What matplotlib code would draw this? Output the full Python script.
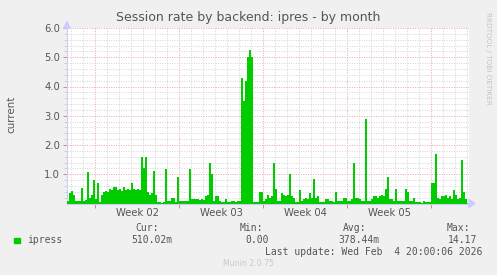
import numpy as np
import matplotlib
matplotlib.use("Agg")
import matplotlib.pyplot as plt
from matplotlib.patches import Polygon, Rectangle

# 4-hour samples, starting 2.33 days before Monday of Week 02
start_day = -28 / 12
step_day = 1 / 6
ipress = [
    0.10, 0.35, 0.42, 0.30, 0.08, 0.08, 0.10, 0.54, 0.10, 0.12,
    1.06, 0.20, 0.30, 0.82, 0.15, 0.70, 0.05, 0.30, 0.38, 0.42,
    0.40, 0.50, 0.45, 0.55, 0.55, 0.45, 0.48, 0.42, 0.55, 0.45,
    0.48, 0.45, 0.70, 0.50, 0.45, 0.50, 0.45, 1.60, 1.20, 1.60,
    0.40, 0.30, 0.35, 1.10, 0.30, 0.04, 0.04, 0.03, 0.05, 1.18,
    0.10, 0.10, 0.20, 0.20, 0.05, 0.90, 0.08, 0.08, 0.10, 0.10,
    0.10, 1.18, 0.15, 0.15, 0.15, 0.15, 0.12, 0.15, 0.12, 0.25,
    0.30, 1.38, 1.00, 0.10, 0.25, 0.25, 0.10, 0.05, 0.05, 0.15,
    0.05, 0.05, 0.10, 0.10, 0.05, 0.10, 0.10, 4.30, 3.50, 4.20,
    5.00, 5.25, 5.00, 0.05, 0.05, 0.05, 0.40, 0.38, 0.10, 0.15,
    0.30, 0.20, 0.25, 1.38, 0.50, 0.10, 0.10, 0.35, 0.30, 0.25,
    0.30, 1.00, 0.25, 0.20, 0.05, 0.05, 0.45, 0.10, 0.15, 0.20,
    0.15, 0.35, 0.20, 0.85, 0.20, 0.25, 0.05, 0.05, 0.05, 0.15,
    0.15, 0.10, 0.10, 0.05, 0.40, 0.10, 0.10, 0.10, 0.20, 0.20,
    0.10, 0.10, 0.15, 1.40, 0.20, 0.20, 0.15, 0.10, 0.10, 2.90,
    0.10, 0.10, 0.15, 0.25, 0.25, 0.20, 0.25, 0.30, 0.25, 0.50,
    0.92, 0.15, 0.15, 0.10, 0.50, 0.10, 0.10, 0.10, 0.10, 0.50,
    0.40, 0.10, 0.10, 0.20, 0.05, 0.05, 0.05, 0.03, 0.10, 0.05,
    0.05, 0.05, 0.70, 0.70, 1.70, 0.20, 0.15, 0.25, 0.25, 0.30,
    0.20, 0.25, 0.15, 0.45, 0.30, 0.15, 0.20, 1.48, 0.40, 0.15,
]
week_labels = ["Week 02", "Week 03", "Week 04", "Week 05"]
week_starts = [0, 7, 14, 21, 28]
legend_heads = ["Cur:", "Min:", "Avg:", "Max:"]
legend_vals = ["510.02m", "0.00", "378.44m", "14.17"]

W, H = 497, 275
fig = plt.figure(figsize=(W / 100, H / 100), dpi=100, facecolor="#f0f0f0")
x0, x1, y0, y1 = 67, 469, 28, 203.5
ax = fig.add_axes([x0 / W, 1 - y1 / H, (x1 - x0) / W, (y1 - y0) / H])
ax.set_facecolor("white")

t = start_day + step_day * np.arange(len(ipress) + 1)
vals = np.array(ipress + [ipress[-1]])
ax.fill_between(t, 0, vals, step="post", color="#00cc00", linewidth=0, zorder=3)
ax.plot([t[0], t[-1]], [0, 0], color="#00cc00", lw=1.2, zorder=4)

ax.set_xlim(start_day, start_day + (x1 - x0) / 12)
ax.set_ylim(0, 6.0)

# grid
dots = (0, (1, 1.5))
for d in np.arange(-2, 32):
    if d not in week_starts:
        ax.axvline(d, color="#d4d4d4", lw=0.7, ls=dots, zorder=1)
for w in week_starts:
    ax.axvline(w, color="#e8a8a8", lw=0.7, ls=dots, zorder=1)
for v in np.arange(0.2, 6.01, 0.2):
    major = abs(v - round(v)) < 1e-6
    ax.axhline(v, color="#e8a8a8" if major else "#d4d4d4", lw=0.7, ls=dots, zorder=1)

for s in ["top", "right"]:
    ax.spines[s].set_visible(False)
for s in ["left", "bottom"]:
    ax.spines[s].set_color("#ccccff")
    ax.spines[s].set_linewidth(0.8)

ax.set_yticks([1, 2, 3, 4, 5, 6])
ax.set_yticklabels(["1.0", "2.0", "3.0", "4.0", "5.0", "6.0"])
ax.set_yticks(np.arange(0.2, 6.0, 0.2), minor=True)
ax.set_xticks(week_starts)
ax.set_xticklabels([])
ax.set_xticks([w + 3.5 for w in week_starts[:4]], minor=True)
ax.set_xticklabels(week_labels, minor=True)
ax.tick_params(axis="y", which="major", colors="#e08080", labelcolor="#555555",
               labelsize=7.2, length=3, width=0.7, pad=2)
ax.tick_params(axis="y", which="minor", colors="#cccccc", length=2, width=0.6)
ax.tick_params(axis="x", which="major", colors="#e08080", length=3, width=0.7)
ax.tick_params(axis="x", which="minor", length=0, labelcolor="#555555",
               labelsize=7.2, pad=3)

# axis arrows
fig.patches.append(Polygon(
    [[x1 / W, 1 - (y1 - 4) / H], [(x1 + 6) / W, 1 - y1 / H], [x1 / W, 1 - (y1 + 4) / H]],
    closed=True, transform=fig.transFigure, color="#ccccff"))
fig.patches.append(Polygon(
    [[(x0 - 3.5) / W, 1 - y0 / H], [x0 / W, 1 - (y0 - 6) / H], [(x0 + 3.5) / W, 1 - y0 / H]],
    closed=True, transform=fig.transFigure, color="#ccccff"))

fig.text(248 / W, 1 - 18 / H, "Session rate by backend: ipres - by month",
         ha="center", va="center", fontsize=9, color="#555555")
fig.text(11 / W, 1 - 114 / H, "current", rotation=90, ha="center", va="center",
         fontsize=7.4, color="#555555")
fig.text(488 / W, 1 - 58 / H, "RRDTOOL / TOBI OETIKER", rotation=270, ha="center",
         va="center", fontsize=5.2, color="#c4c4c4")

mono = "DejaVu Sans Mono"
head_x = [159, 263, 366, 470]
val_x = [172, 269, 379, 477]
for hx, h in zip(head_x, legend_heads):
    fig.text(hx / W, 1 - 228 / H, h, ha="right", va="center", family=mono,
             fontsize=7, color="#555555")
for vx, v in zip(val_x, legend_vals):
    fig.text(vx / W, 1 - 240 / H, v, ha="right", va="center", family=mono,
             fontsize=7, color="#555555")
fig.patches.append(Rectangle(
    (14 / W, 1 - 243 / H), 5.5 / W, 5.5 / H, transform=fig.transFigure, color="#00cc00"))
fig.text(27 / W, 1 - 240 / H, "ipress", ha="left", va="center", family=mono,
         fontsize=7, color="#555555")
fig.text(482 / W, 1 - 252 / H, "Last update: Wed Feb  4 20:00:06 2026", ha="right",
         va="center", family=mono, fontsize=7, color="#555555")
fig.text(248 / W, 1 - 264 / H, "Munin 2.0.75", ha="center", va="center",
         fontsize=5.6, color="#c8c8c8")

fig.savefig("out.png", dpi=100, facecolor=fig.get_facecolor())
